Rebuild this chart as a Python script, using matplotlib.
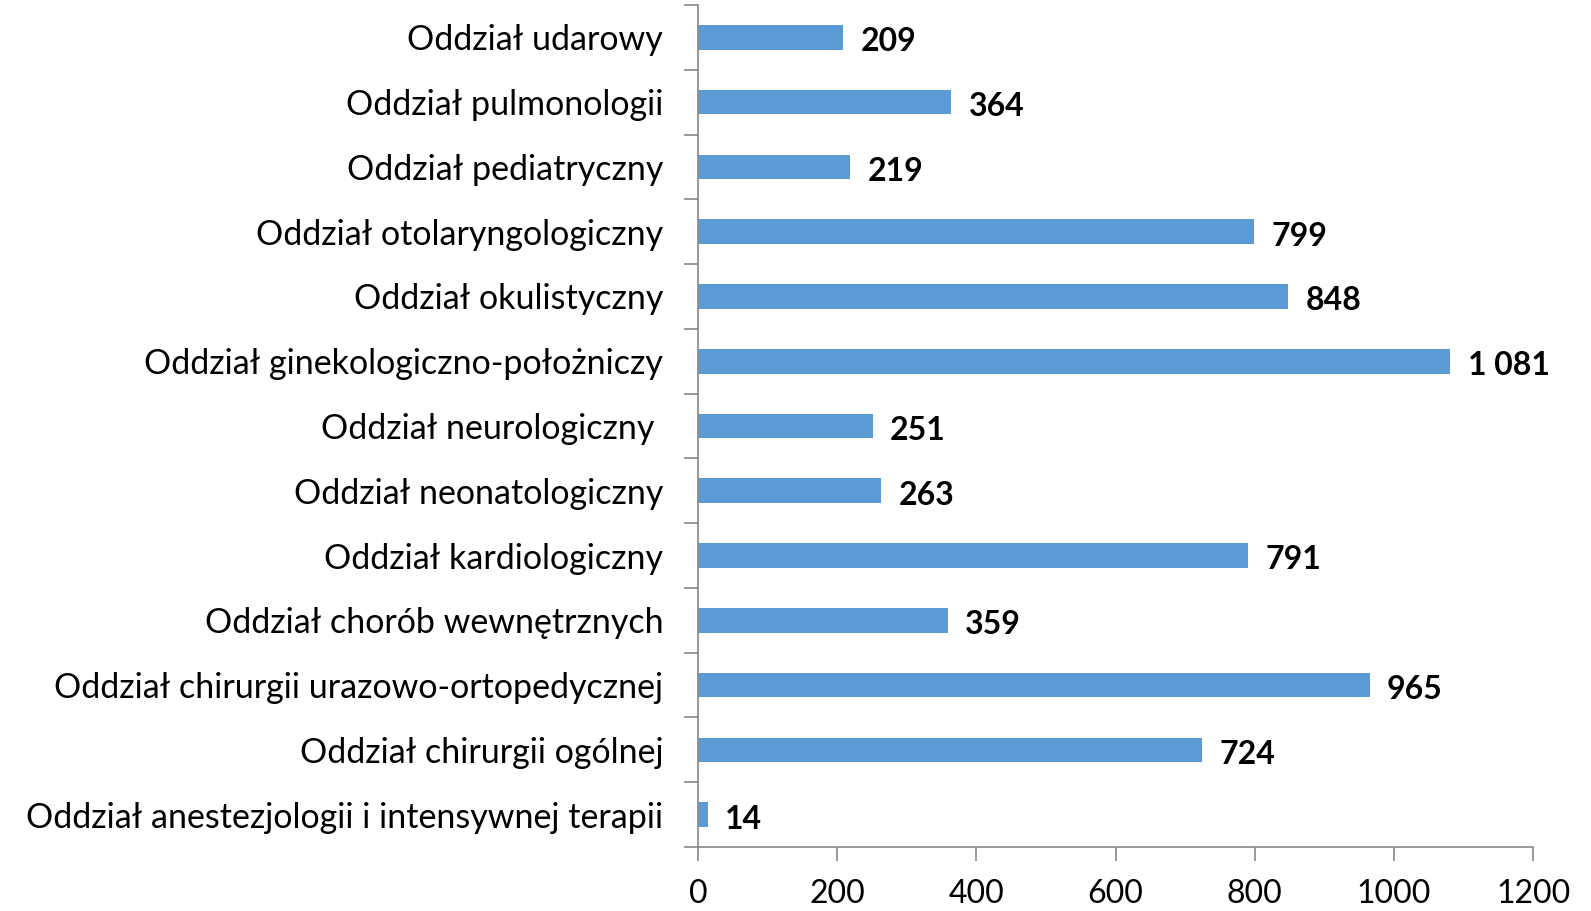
import numpy as np
import matplotlib.pyplot as plt

# categories listed bottom to top
categories = [
    "Oddział anestezjologii i intensywnej terapii",
    "Oddział chirurgii ogólnej",
    "Oddział chirurgii urazowo-ortopedycznej",
    "Oddział chorób wewnętrznych",
    "Oddział kardiologiczny",
    "Oddział neonatologiczny",
    "Oddział neurologiczny ",
    "Oddział ginekologiczno-położniczy",
    "Oddział okulistyczny",
    "Oddział otolaryngologiczny",
    "Oddział pediatryczny",
    "Oddział pulmonologii",
    "Oddział udarowy",
]
values = [14, 724, 965, 359, 791, 263, 251, 1081, 848, 799, 219, 364, 209]
x_ticks = [0, 200, 400, 600, 800, 1000, 1200]

plt.rcParams['font.family'] = ['Lato', 'DejaVu Sans']

fig = plt.figure(figsize=(15.91, 9.11), dpi=100)
ax = fig.add_axes([0.4387, 0.0703, 0.5249, 0.9242])

pos = np.arange(len(categories))
ax.barh(pos, values, height=0.38, color='#5b9bd5', zorder=2)

for p, v in zip(pos, values):
    txt = f"{v:,}".replace(",", " ")
    ax.text(v + 25, p - 0.03, txt, va='center_baseline', ha='left', fontsize=23,
            fontweight='bold', color='black')

ax.set_xlim(0, 1200)
ax.set_ylim(-0.5, len(categories) - 0.5)
ax.set_xticks(x_ticks)
ax.set_xticklabels([str(t) for t in x_ticks], fontsize=23)

# labels at bar centres, tick marks at the category boundaries
ax.set_yticks(pos)
ax.set_yticklabels(categories, fontsize=24.5)
ax.set_yticks(np.arange(len(categories) + 1) - 0.5, minor=True)
ax.tick_params(axis='y', which='major', length=0, pad=25)
ax.tick_params(axis='y', which='minor', length=10, width=1.2, color='#888888')
ax.tick_params(axis='x', which='major', length=10, width=1.2, color='#888888',
               direction='out', pad=13)

for side in ['top', 'right']:
    ax.spines[side].set_visible(False)
for side in ['left', 'bottom']:
    ax.spines[side].set_color('#888888')
    ax.spines[side].set_linewidth(1.2)

fig.savefig('out.png', dpi=100)
